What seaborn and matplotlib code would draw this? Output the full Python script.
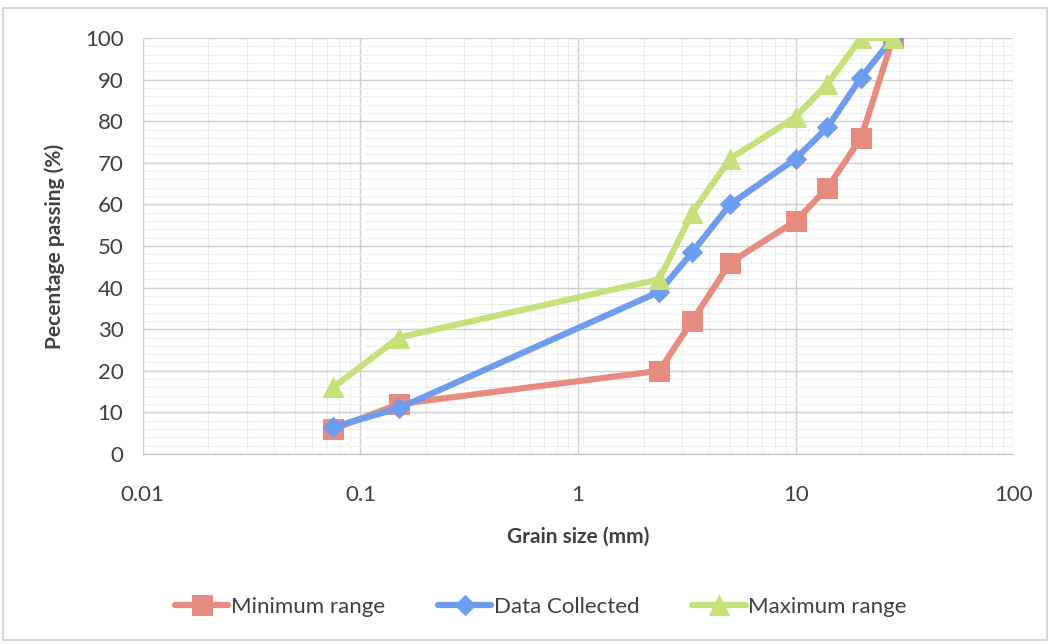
import numpy as np
import pandas as pd
import matplotlib
matplotlib.use("Agg")
import matplotlib.pyplot as plt
from matplotlib.ticker import FixedLocator, NullFormatter, MultipleLocator
from matplotlib.patches import Rectangle
import seaborn as sns

grain_size = [0.075, 0.15, 2.36, 3.35, 5, 10, 14, 20, 28]
minimum_range = [6, 12, 20, 32, 46, 56, 64, 76, 100]
data_collected = [6.5, 11, 39, 48.5, 60, 71, 78.5, 90.5, 100]
maximum_range = [16, 28, 42, 58, 71, 81, 89, 100, 100]
series_names = ["Minimum range", "Data Collected", "Maximum range"]
x_ticks = [0.01, 0.1, 1, 10, 100]
x_tick_labels = ["0.01", "0.1", "1", "10", "100"]

sns.set_style("white")
plt.rcParams['font.family'] = ['Lato', 'DejaVu Sans']

fig = plt.figure(figsize=(10.5, 6.44), dpi=100)
ax = fig.add_axes([0.136, 0.295, 0.829, 0.646])

colors = ["#E68C7E", "#6E9CEE", "#C6E07A"]
markers = ["s", "D", "^"]
msizes = [14, 10, 14]
for name, vals, c, m, ms in zip(series_names, [minimum_range, data_collected, maximum_range], colors, markers, msizes):
    df = pd.DataFrame({"x": grain_size, "y": vals})
    sns.lineplot(data=df, x="x", y="y", ax=ax, color=c, lw=4.5, marker=m, markersize=ms,
                 markeredgecolor=c, label=name, sort=False, zorder=3)

ax.set_xscale("log")
ax.set_xlim(0.01, 100)
ax.set_ylim(0, 100)
ax.xaxis.set_major_locator(FixedLocator(x_ticks))
ax.set_xticklabels(x_tick_labels)
ax.xaxis.set_minor_locator(matplotlib.ticker.LogLocator(base=10, subs=np.arange(2, 10)))
ax.xaxis.set_minor_formatter(NullFormatter())
ax.yaxis.set_major_locator(MultipleLocator(10))
ax.yaxis.set_minor_locator(MultipleLocator(2))
ax.grid(which="major", color="#CFCFCF", lw=1.0)
ax.grid(which="minor", color="#EDEDED", lw=0.8)
ax.set_axisbelow(True)
for s in ["top", "right", "left"]:
    ax.spines[s].set_visible(False)
ax.spines["bottom"].set_color("#BFBFBF")
ax.tick_params(axis="both", which="both", length=0, labelsize=16, colors="#404040")
ax.tick_params(axis="x", pad=22)
ax.tick_params(axis="y", pad=14)

ax.set_xlabel("Grain size (mm)", fontsize=15, fontweight="bold", color="#404040", labelpad=16)
ax.set_ylabel("Pecentage passing (%)", fontsize=15, fontweight="bold", color="#404040", labelpad=14)

ax.legend_.remove()
handles, labels = ax.get_legend_handles_labels()
fig.legend(handles, labels, loc="center", bbox_to_anchor=(0.515, 0.058), ncol=3, frameon=False,
           fontsize=16, handlelength=2.4, columnspacing=2.4, handletextpad=0.1, labelcolor="#404040")

fig.patches.append(Rectangle((0.003, 0.006), 0.994, 0.982, transform=fig.transFigure,
                             fill=False, edgecolor="#D0D0D0", lw=1.2))

fig.savefig("out.png", dpi=100, facecolor="white")
